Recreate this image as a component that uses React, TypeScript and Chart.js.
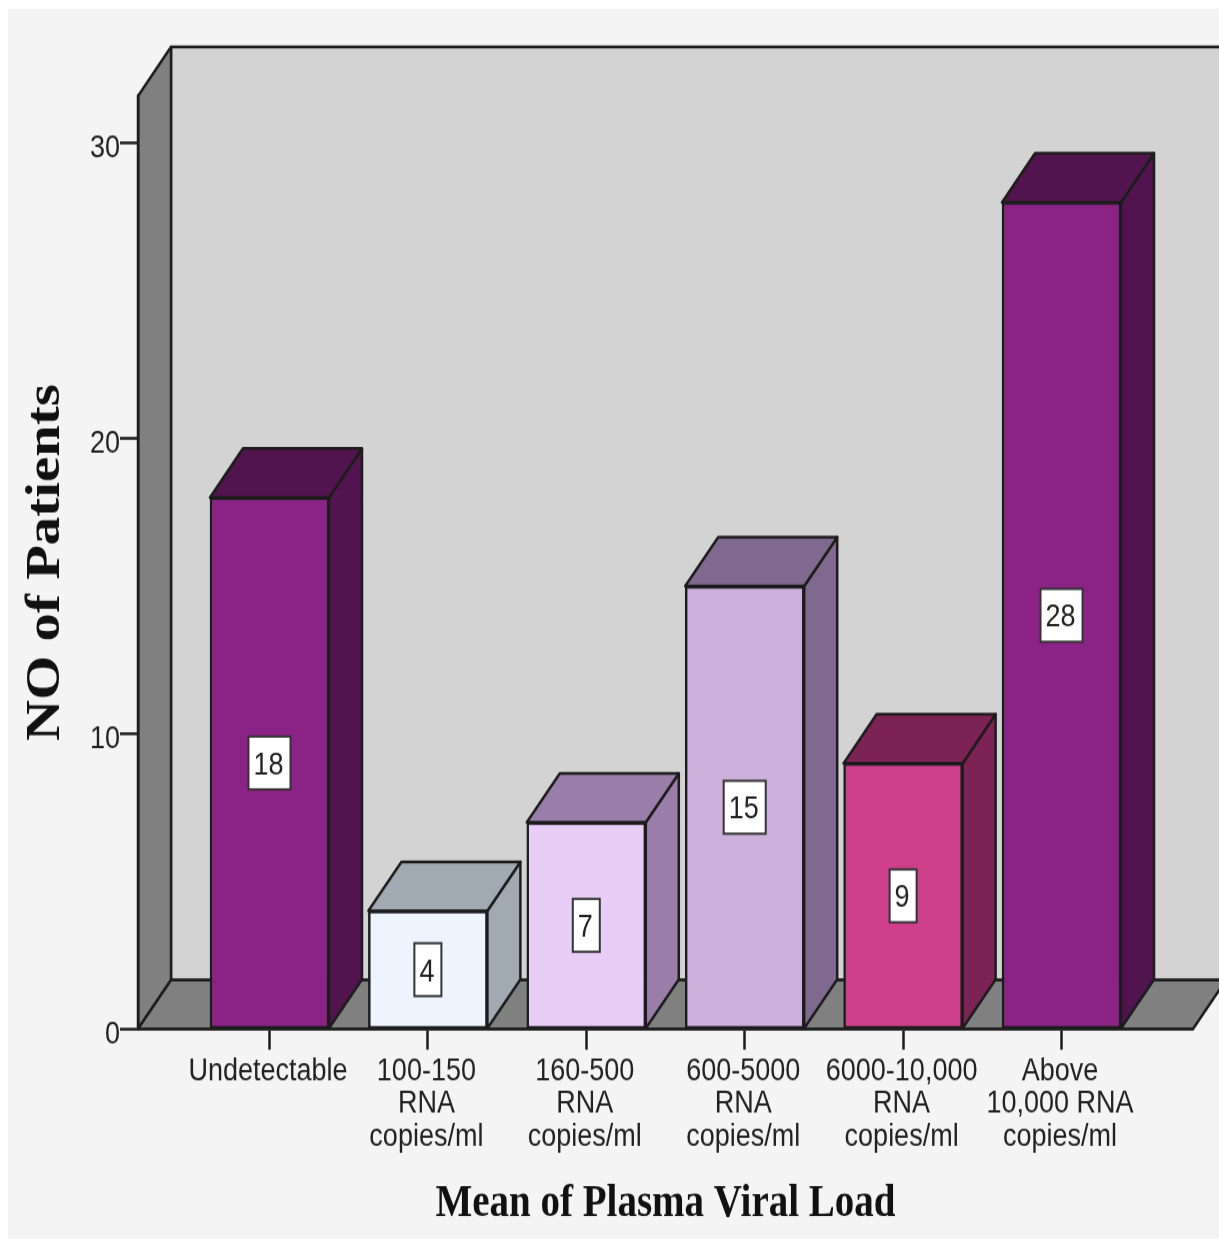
import React, { useEffect, useRef } from "react";
import { Chart, registerables } from "chart.js";

Chart.register(...registerables);

const categories = [
  ["Undetectable"],
  ["100-150", "RNA", "copies/ml"],
  ["160-500", "RNA", "copies/ml"],
  ["600-5000", "RNA", "copies/ml"],
  ["6000-10,000", "RNA", "copies/ml"],
  ["Above", "10,000 RNA", "copies/ml"],
];
const patients = [18, 4, 7, 15, 9, 28];
const frontColors = ["#8b2386", "#edf4fe", "#e8cdf7", "#ccafda", "#cf408c", "#8b2386"];
const depthColors = ["#52144f", "#a1a9b3", "#9b7da9", "#80698e", "#7d2254", "#52144f"];

const INK = "#1c1c1c";
// The whole drawing is stretched vertically by this factor through a CSS transform
const CANVAS_W = 1211;
const CANVAS_H = 1070;
const STRETCH = 1230 / CANVAS_H;
const DEPTH_X = 33;
const DEPTH_Y = -49 / STRETCH;

function polygon(ctx: CanvasRenderingContext2D, pts: number[][], fill: string) {
  ctx.beginPath();
  pts.forEach(([x, y], i) => (i ? ctx.lineTo(x, y) : ctx.moveTo(x, y)));
  ctx.closePath();
  ctx.fillStyle = fill;
  ctx.fill();
  ctx.strokeStyle = INK;
  ctx.lineWidth = 2.5;
  ctx.lineJoin = "round";
  ctx.stroke();
}

// Back wall, side wall and floor of the 3D box behind the bars
const boxPlugin = {
  id: "box",
  beforeDraw(chart: any) {
    const { ctx, chartArea: a } = chart;
    ctx.save();
    polygon(ctx, [
      [a.left + DEPTH_X, a.top + DEPTH_Y],
      [a.right + DEPTH_X, a.top + DEPTH_Y],
      [a.right + DEPTH_X, a.bottom + DEPTH_Y],
      [a.left + DEPTH_X, a.bottom + DEPTH_Y],
    ], "#d3d3d3");
    polygon(ctx, [
      [a.left, a.top],
      [a.left + DEPTH_X, a.top + DEPTH_Y],
      [a.left + DEPTH_X, a.bottom + DEPTH_Y],
      [a.left, a.bottom],
    ], "#808080");
    polygon(ctx, [
      [a.left, a.bottom],
      [a.left + DEPTH_X, a.bottom + DEPTH_Y],
      [a.right + DEPTH_X, a.bottom + DEPTH_Y],
      [a.right, a.bottom],
    ], "#808080");
    ctx.restore();
  },
};

// Top and side faces of each bar, plus the boxed value at mid height
const barFacesPlugin = {
  id: "barFaces",
  beforeDatasetsDraw(chart: any) {
    const { ctx } = chart;
    ctx.save();
    chart.getDatasetMeta(0).data.forEach((bar: any, i: number) => {
      const l = bar.x - bar.width / 2;
      const r = bar.x + bar.width / 2;
      polygon(ctx, [
        [r, bar.y],
        [r + DEPTH_X, bar.y + DEPTH_Y],
        [r + DEPTH_X, bar.base + DEPTH_Y],
        [r, bar.base],
      ], depthColors[i]);
      polygon(ctx, [
        [l, bar.y],
        [l + DEPTH_X, bar.y + DEPTH_Y],
        [r + DEPTH_X, bar.y + DEPTH_Y],
        [r, bar.y],
      ], depthColors[i]);
    });
    ctx.restore();
  },
  afterDatasetsDraw(chart: any) {
    const { ctx } = chart;
    ctx.save();
    ctx.font = "27px 'Liberation Sans'";
    ctx.textAlign = "center";
    ctx.textBaseline = "middle";
    chart.getDatasetMeta(0).data.forEach((bar: any, i: number) => {
      const text = String(patients[i]);
      const w = ctx.measureText(text).width + 12;
      const h = 46;
      const cy = (bar.y + bar.base) / 2;
      ctx.fillStyle = "#ffffff";
      ctx.strokeStyle = "#333333";
      ctx.lineWidth = 2;
      ctx.fillRect(bar.x - w / 2, cy - h / 2, w, h);
      ctx.strokeRect(bar.x - w / 2, cy - h / 2, w, h);
      ctx.fillStyle = "#222222";
      ctx.fillText(text, bar.x - 1, cy + 2.5);
    });
    ctx.restore();
  },
};

export default function App() {
  const ref = useRef<HTMLCanvasElement>(null);
  useEffect(() => {
    const chart = new Chart(ref.current!, {
      type: "bar",
      data: {
        datasets: [
          {
            data: patients.map((y, x) => ({ x, y })),
            backgroundColor: frontColors,
            borderColor: INK,
            borderWidth: 2.5,
            borderSkipped: false,
            barThickness: 119,
          },
        ],
      },
      options: {
        animation: false,
        responsive: false,
        layout: { padding: { top: 87 / STRETCH, right: 26, left: 0, bottom: 0 } },
        plugins: { legend: { display: false }, tooltip: { enabled: false } },
        scales: {
          x: {
            type: "linear",
            offset: false,
            min: -0.83,
            max: 5.83,
            afterFit(scale: any) {
              scale.height = CANVAS_H - 1020 / STRETCH;
            },
            grid: {
              offset: false,
              drawOnChartArea: false,
              tickLength: 18,
              tickColor: INK,
              tickWidth: 2.5,
            },
            border: { color: INK, width: 2.5 },
            ticks: {
              stepSize: 1,
              includeBounds: false,
              autoSkip: false,
              maxRotation: 0,
              minRotation: 0,
              padding: 4.5,
              labelOffset: -1.5,
              color: "#222222",
              font: { family: "'Liberation Sans'", size: 27, lineHeight: 1.063 },
              callback: (v: any) => categories[v as number],
            },
            title: {
              display: true,
              text: "Mean of Plasma Viral Load",
              color: "#111111",
              font: { family: "'Liberation Serif'", size: 39, weight: "bold", lineHeight: 1.2 },
              padding: { top: 0, bottom: 7 },
            },
          },
          y: {
            min: 0,
            max: 31.6,
            afterFit(scale: any) {
              scale.width = 130;
            },
            grid: {
              drawOnChartArea: false,
              tickLength: 18,
              tickColor: INK,
              tickWidth: 2.5,
            },
            border: { color: INK, width: 2.5 },
            ticks: {
              stepSize: 10,
              includeBounds: false,
              padding: 0,
              labelOffset: 5,
              color: "#222222",
              font: { family: "'Liberation Sans'", size: 27 },
            },
            title: {
              display: true,
              text: "NO of Patients",
              color: "#111111",
              font: { family: "'Liberation Serif'", size: 49.5, weight: "bold", lineHeight: 1.2 },
              padding: { top: 8.5, bottom: 0 },
            },
          },
        },
      } as any,
      plugins: [boxPlugin, barFacesPlugin],
    });
    return () => chart.destroy();
  }, []);
  return (
    <div
      style={{
        position: "absolute",
        left: 8,
        top: 9,
        transform: `scale(1, ${STRETCH})`,
        transformOrigin: "0 0",
      }}
    >
      <canvas
        ref={ref}
        width={CANVAS_W}
        height={CANVAS_H}
        style={{ display: "block", background: "#f4f4f4" }}
      />
    </div>
  );
}
